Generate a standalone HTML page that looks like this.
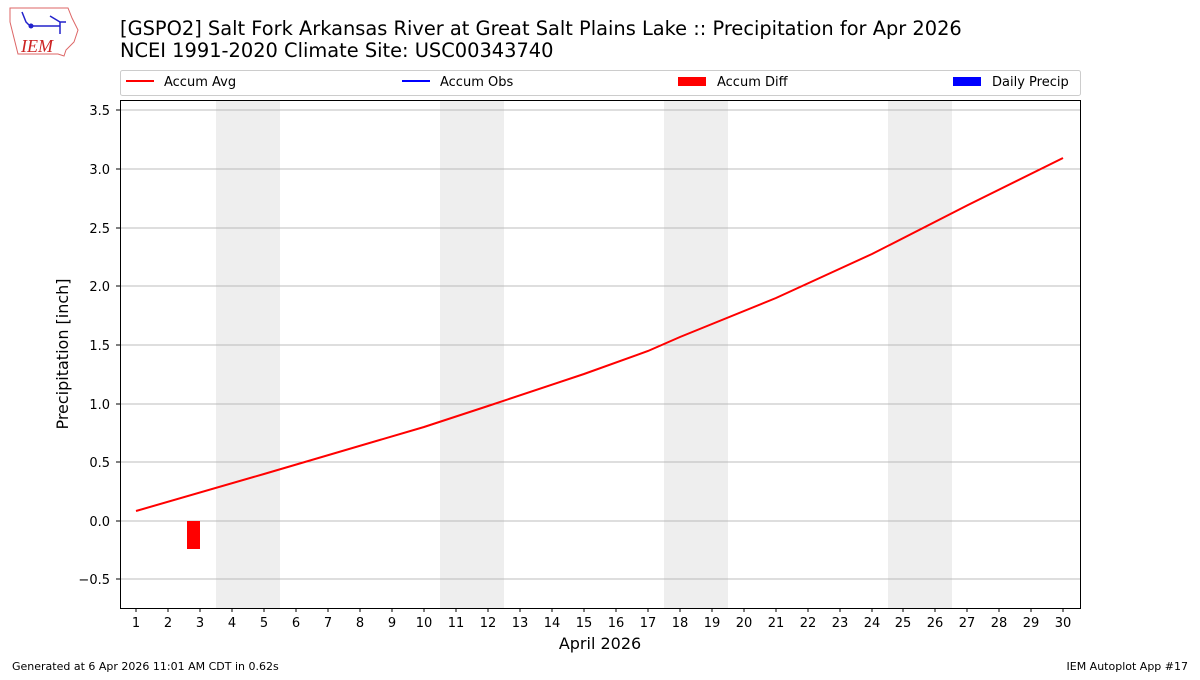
<!DOCTYPE html>
<html><head><meta charset="utf-8"><style>
body{margin:0;background:#fff;width:1200px;height:675px;overflow:hidden}
svg text{font-family:"DejaVu Sans","Liberation Sans",sans-serif}
</style></head><body>
<svg width="1200" height="675" viewBox="0 0 1200 675" xmlns="http://www.w3.org/2000/svg">
<path d="M10,8 L68,8 L72,18 L78,30 L74,42 L66,50 L64,56 L58,54 L18,54 L14,38 L10,22 Z" fill="none" stroke="#d66" stroke-width="1"/>
<path d="M22,12 L26,22 L30,26 M30,26 L60,26 M50,16 L60,22 L66,22 M60,22 L60,34" stroke="#22c" stroke-width="1.5" fill="none"/>
<circle cx="31" cy="26" r="2.5" fill="#22c"/>
<text x="21" y="52" font-size="18" fill="#c22" font-style="italic" style="font-family:'Liberation Serif',serif">IEM</text>
<text x="120" y="35" font-size="19.4" fill="#000">[GSPO2] Salt Fork Arkansas River at Great Salt Plains Lake :: Precipitation for Apr 2026</text>
<text x="120" y="57" font-size="19.4" fill="#000">NCEI 1991-2020 Climate Site: USC00343740</text>
<rect x="120.5" y="70.5" width="960" height="25" fill="#fff" stroke="#ccc" rx="2"/>
<line x1="126" y1="81" x2="154" y2="81" stroke="red" stroke-width="2"/>
<text x="164" y="86" font-size="13">Accum Avg</text>
<line x1="402" y1="81" x2="430" y2="81" stroke="blue" stroke-width="2"/>
<text x="440" y="86" font-size="13">Accum Obs</text>
<rect x="678" y="77" width="28" height="9" fill="red"/>
<text x="717" y="86" font-size="13">Accum Diff</text>
<rect x="953" y="77" width="28" height="9" fill="blue"/>
<text x="992" y="86" font-size="13">Daily Precip</text>
<g fill="#eeeeee">
<rect x="216" y="100" width="64" height="508"/>
<rect x="440" y="100" width="64" height="508"/>
<rect x="664" y="100" width="64" height="508"/>
<rect x="888" y="100" width="64" height="508"/>
</g>
<g stroke="#a8a8a8" stroke-width="0.8">
<line x1="120" x2="1080" y1="579" y2="579"/><line x1="120" x2="1080" y1="521" y2="521"/>
<line x1="120" x2="1080" y1="462" y2="462"/><line x1="120" x2="1080" y1="404" y2="404"/>
<line x1="120" x2="1080" y1="345" y2="345"/><line x1="120" x2="1080" y1="286" y2="286"/>
<line x1="120" x2="1080" y1="228" y2="228"/><line x1="120" x2="1080" y1="169" y2="169"/>
<line x1="120" x2="1080" y1="110" y2="110"/>
</g>
<rect x="187" y="521" width="13" height="28" fill="red"/>
<polyline fill="none" stroke="red" stroke-width="2" points="136,511 264,474 424,427 488,406 584,374 648,351 680,337 776,298 872,254 968,205 1063,158"/>
<rect x="120.5" y="100.5" width="960" height="508" fill="none" stroke="#000" stroke-width="1"/>
<g font-size="13" text-anchor="end">
<text x="110" y="584">−0.5</text><text x="110" y="526">0.0</text><text x="110" y="467">0.5</text>
<text x="110" y="409">1.0</text><text x="110" y="350">1.5</text><text x="110" y="291">2.0</text>
<text x="110" y="233">2.5</text><text x="110" y="174">3.0</text><text x="110" y="115">3.5</text>
</g>
<g stroke="#000"><line x1="116" x2="120" y1="579" y2="579"/><line x1="116" x2="120" y1="521" y2="521"/><line x1="116" x2="120" y1="462" y2="462"/><line x1="116" x2="120" y1="404" y2="404"/><line x1="116" x2="120" y1="345" y2="345"/><line x1="116" x2="120" y1="286" y2="286"/><line x1="116" x2="120" y1="228" y2="228"/><line x1="116" x2="120" y1="169" y2="169"/><line x1="116" x2="120" y1="110" y2="110"/></g>
<g font-size="13" text-anchor="middle">
<text x="136" y="627">1</text><text x="168" y="627">2</text><text x="200" y="627">3</text><text x="232" y="627">4</text><text x="264" y="627">5</text><text x="296" y="627">6</text><text x="328" y="627">7</text><text x="360" y="627">8</text><text x="392" y="627">9</text><text x="424" y="627">10</text><text x="456" y="627">11</text><text x="488" y="627">12</text><text x="520" y="627">13</text><text x="552" y="627">14</text><text x="584" y="627">15</text><text x="616" y="627">16</text><text x="648" y="627">17</text><text x="680" y="627">18</text><text x="712" y="627">19</text><text x="744" y="627">20</text><text x="776" y="627">21</text><text x="808" y="627">22</text><text x="840" y="627">23</text><text x="872" y="627">24</text><text x="903" y="627">25</text><text x="935" y="627">26</text><text x="967" y="627">27</text><text x="999" y="627">28</text><text x="1031" y="627">29</text><text x="1063" y="627">30</text>
</g>
<path stroke="#000" d="M136,608v4M168,608v4M200,608v4M232,608v4M264,608v4M296,608v4M328,608v4M360,608v4M392,608v4M424,608v4M456,608v4M488,608v4M520,608v4M552,608v4M584,608v4M616,608v4M648,608v4M680,608v4M712,608v4M744,608v4M776,608v4M808,608v4M840,608v4M872,608v4M903,608v4M935,608v4M967,608v4M999,608v4M1031,608v4M1063,608v4"/>
<text x="600" y="649" font-size="16" text-anchor="middle">April 2026</text>
<text transform="translate(68,354) rotate(-90)" font-size="16" text-anchor="middle">Precipitation [inch]</text>
<text x="12" y="670" font-size="11">Generated at 6 Apr 2026 11:01 AM CDT in 0.62s</text>
<text x="1188" y="670" font-size="11" text-anchor="end">IEM Autoplot App #17</text>
</svg>
</body></html>
